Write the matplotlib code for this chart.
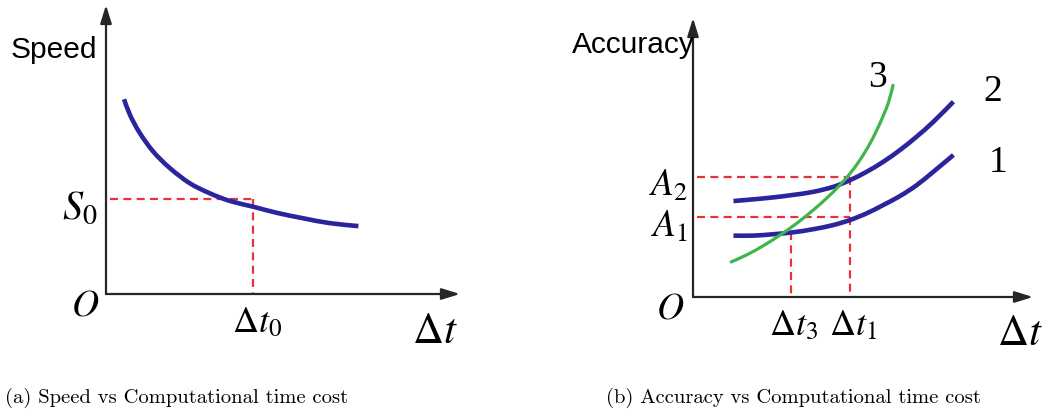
import matplotlib
matplotlib.use("Agg")
import matplotlib.pyplot as plt
from matplotlib.path import Path
from matplotlib.patches import PathPatch

plt.rcParams['mathtext.fontset'] = 'stix'

# speed vs time cost (panel a), axis units 0..10
speed_x = [0.51, 0.68, 0.96, 1.34, 1.81, 2.37, 2.94, 3.50, 4.16, 4.82, 5.57, 6.33, 7.13]
speed_y = [6.74, 6.19, 5.56, 4.92, 4.35, 3.83, 3.48, 3.22, 3.02, 2.81, 2.62, 2.45, 2.35]
s0 = 3.29
dt0 = 4.16

# accuracy vs time cost (panel b)
acc_x = [1.19, 1.77, 2.36, 2.95, 3.54, 4.13, 4.62, 5.11, 5.60, 6.09, 6.58, 7.07, 7.66]
acc2_y = [3.44, 3.50, 3.57, 3.66, 3.77, 3.95, 4.19, 4.49, 4.85, 5.27, 5.75, 6.28, 7.00]
acc1_y = [2.20, 2.20, 2.25, 2.32, 2.43, 2.58, 2.76, 3.00, 3.30, 3.62, 4.01, 4.49, 5.09]
acc3_x = [1.09, 1.58, 2.07, 2.56, 3.05, 3.54, 3.93, 4.32, 4.62, 4.91, 5.21, 5.50, 5.74, 5.89]
acc3_y = [1.24, 1.51, 1.84, 2.22, 2.64, 3.12, 3.54, 4.01, 4.43, 4.91, 5.51, 6.23, 6.94, 7.63]
a1, a2 = 2.88, 4.29
dt3, dt1 = 2.87, 4.62
dt3_top = 2.34

captions = ['(a) Speed vs Computational time cost',
            '(b) Accuracy vs Computational time cost']

BLUE = '#2a259c'
GREEN = '#3fb54a'
RED = '#e8333c'
AXIS = '#262626'
W, H = 1048, 416

fig = plt.figure(figsize=(W / 100, H / 100), dpi=100)
ax1 = fig.add_axes([106 / W, (H - 294) / H, 354 / W, 289 / H])
ax2 = fig.add_axes([693 / W, (H - 297) / H, 340 / W, 279 / H])


def draw_axes(ax):
    ax.set_xlim(0, 10)
    ax.set_ylim(0, 10)
    ax.axis('off')
    arrow = dict(arrowstyle='-|>,head_length=0.55,head_width=0.17',
                 mutation_scale=20, lw=1.6, color=AXIS, shrinkA=0, shrinkB=0)
    ax.annotate('', xy=(10, 0), xytext=(0, 0), arrowprops=arrow, annotation_clip=False)
    ax.annotate('', xy=(0, 10), xytext=(0, 0), arrowprops=arrow, annotation_clip=False)


def dashed(ax, xs, ys):
    ax.plot(xs, ys, color=RED, lw=1.6, dashes=(3.6, 2.4), clip_on=False, zorder=2)


def smooth_curve(ax, xs, ys, color, lw, z):
    # catmull-rom through the read points, drawn as cubic bezier segments
    pts = list(zip(xs, ys))
    verts = [pts[0]]
    codes = [Path.MOVETO]
    for i in range(len(pts) - 1):
        p0 = pts[i - 1] if i > 0 else pts[i]
        p1 = pts[i]
        p2 = pts[i + 1]
        p3 = pts[i + 2] if i + 2 < len(pts) else pts[i + 1]
        c1 = (p1[0] + (p2[0] - p0[0]) / 6, p1[1] + (p2[1] - p0[1]) / 6)
        c2 = (p2[0] - (p3[0] - p1[0]) / 6, p2[1] - (p3[1] - p1[1]) / 6)
        verts += [c1, c2, p2]
        codes += [Path.CURVE4] * 3
    ax.add_patch(PathPatch(Path(verts, codes), facecolor='none', edgecolor=color,
                           lw=lw, capstyle='butt', clip_on=False, zorder=z))


serif = dict(family='Liberation Serif')
sans = dict(family='Liberation Sans')

# --- panel a
draw_axes(ax1)
dashed(ax1, [0.12, dt0], [s0, s0])
dashed(ax1, [dt0, dt0], [s0, 0])
smooth_curve(ax1, speed_x, speed_y, BLUE, 3.3, 3)
ax1.text(-0.25, 8.45, 'Speed', fontdict=sans, fontsize=21.5, ha='right', va='center')
ax1.text(-0.25, s0 - 0.3, '$S_0$', fontsize=29, ha='right', va='center')
ax1.text(-0.6, -0.4, '$O$', fontsize=27, ha='center', va='center')
ax1.text(dt0 + 0.1, -0.4, r'$\Delta t_0$', fontsize=26, ha='center', va='top')
ax1.text(9.3, -0.55, r'$\Delta t$', fontsize=31, ha='center', va='top')

# --- panel b
draw_axes(ax2)
dashed(ax2, [0.12, dt1], [a2, a2])
dashed(ax2, [0.12, dt1], [a1, a1])
dashed(ax2, [dt1, dt1], [a2, 0])
dashed(ax2, [dt3, dt3], [dt3_top, 0])
smooth_curve(ax2, acc_x, acc2_y, BLUE, 3.3, 3)
smooth_curve(ax2, acc_x, acc1_y, BLUE, 3.3, 3)
smooth_curve(ax2, acc3_x, acc3_y, GREEN, 2.3, 4)
ax2.text(0.05, 9.05, 'Accuracy', fontdict=sans, fontsize=21.5, ha='right', va='center')
ax2.text(5.44, 7.85, '3', fontdict=serif, fontsize=27, ha='center', va='center')
ax2.text(8.82, 7.35, '2', fontdict=serif, fontsize=27, ha='center', va='center')
ax2.text(8.97, 4.80, '1', fontdict=serif, fontsize=27, ha='center', va='center')
ax2.text(-0.15, a2 - 0.3, '$A_2$', fontsize=27, ha='right', va='center')
ax2.text(-0.15, a1 - 0.35, '$A_1$', fontsize=27, ha='right', va='center')
ax2.text(-0.68, -0.4, '$O$', fontsize=27, ha='center', va='center')
ax2.text(dt3 + 0.1, -0.4, r'$\Delta t_3$', fontsize=26, ha='center', va='top')
ax2.text(dt1 + 0.1, -0.4, r'$\Delta t_1$', fontsize=26, ha='center', va='top')
ax2.text(9.62, -0.55, r'$\Delta t$', fontsize=31, ha='center', va='top')

# captions
fig.text(177 / W, 1 - 398 / H, captions[0],
         family='cmr10', fontsize=14.8, ha='center', va='center')
fig.text(793 / W, 1 - 398 / H, captions[1],
         family='cmr10', fontsize=14.8, ha='center', va='center')

fig.savefig('out.png', dpi=100, facecolor='white')
